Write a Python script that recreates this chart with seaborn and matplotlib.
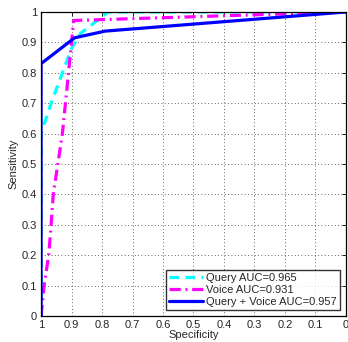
import matplotlib
matplotlib.use("Agg")
import matplotlib.pyplot as plt
import seaborn as sns
import pandas as pd

# Data
query_spec = [1.0, 1.0, 0.967, 0.93, 0.90, 0.87, 0.78, 0.0]
query_sens = [0.0, 0.60, 0.70, 0.80, 0.88, 0.93, 1.0, 1.0]

voice_spec = [1.0, 0.99, 0.975, 0.967, 0.96, 0.945, 0.93, 0.92, 0.91, 0.90, 0.893, 0.0]
voice_sens = [0.0, 0.10, 0.20, 0.30, 0.40, 0.50, 0.60, 0.70, 0.80, 0.90, 0.972, 1.0]

qv_spec = [1.0, 1.0, 0.89, 0.79, 0.0]
qv_sens = [0.0, 0.83, 0.915, 0.937, 1.0]

labels = ["Query AUC=0.965", "Voice AUC=0.931", "Query + Voice AUC=0.957"]
xticks = [1, 0.9, 0.8, 0.7, 0.6, 0.5, 0.4, 0.3, 0.2, 0.1, 0]
xticklabels = ["1", "0.9", "0.8", "0.7", "0.6", "0.5", "0.4", "0.3", "0.2", "0.1", "0"]
yticks = [0, 0.1, 0.2, 0.3, 0.4, 0.5, 0.6, 0.7, 0.8, 0.9, 1]
yticklabels = ["0", "0.1", "0.2", "0.3", "0.4", "0.5", "0.6", "0.7", "0.8", "0.9", "1"]

sns.set_style("white")
plt.rcParams["font.family"] = ["Liberation Sans", "DejaVu Sans"]

fig = plt.figure(figsize=(3.48, 3.42), dpi=100)
ax = fig.add_axes([0.118, 0.076, 0.876, 0.889])

df_q = pd.DataFrame({"spec": query_spec, "sens": query_sens})
df_v = pd.DataFrame({"spec": voice_spec, "sens": voice_sens})
df_qv = pd.DataFrame({"spec": qv_spec, "sens": qv_sens})

sns.lineplot(data=df_q, x="spec", y="sens", sort=False, estimator=None, ax=ax,
             color=(0, 1, 1), lw=2.3, linestyle=(0, (3, 2)), label=labels[0])
sns.lineplot(data=df_v, x="spec", y="sens", sort=False, estimator=None, ax=ax,
             color=(1, 0, 1), lw=2.3, linestyle=(0, (3.5, 1.5, 0.6, 1.5)), label=labels[1])
sns.lineplot(data=df_qv, x="spec", y="sens", sort=False, estimator=None, ax=ax,
             color=(0, 0, 1), lw=2.3, linestyle="-", label=labels[2])

ax.set_xlim(1, 0)
ax.set_ylim(0, 1)
ax.set_xticks(xticks)
ax.set_xticklabels(xticklabels)
ax.set_yticks(yticks)
ax.set_yticklabels(yticklabels)
ax.tick_params(direction="in", length=3, width=0.6, labelsize=8, top=True, right=True,
               color="black", pad=3)
ax.grid(True, linestyle=(0, (1, 3)), color="#333333", linewidth=0.6)
for s in ax.spines.values():
    s.set_color("black")
    s.set_linewidth(0.9)
ax.set_xlabel("Specificity", fontsize=8, labelpad=0)
ax.set_ylabel("Sensitivity", fontsize=8, labelpad=2)

leg = ax.legend(loc="lower right", fontsize=8, frameon=True, fancybox=False,
                handlelength=3.0, handletextpad=0.3, borderpad=0.3,
                labelspacing=0.15, borderaxespad=0.55)
leg.get_frame().set_edgecolor("black")
leg.get_frame().set_linewidth(1.0)

fig.savefig("out.png", dpi=100)
